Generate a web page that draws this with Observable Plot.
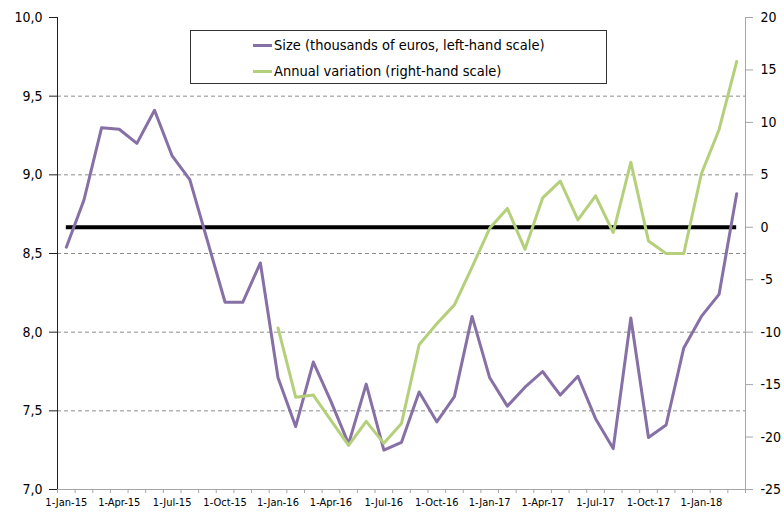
<!DOCTYPE html>
<html><head><meta charset="utf-8">
<script src="https://cdn.jsdelivr.net/npm/d3@7"></script>
<script src="https://cdn.jsdelivr.net/npm/@observablehq/plot@0.6"></script>
<style>
body{margin:0;background:#fff;}
#wrap{position:relative;width:784px;height:512px;font-family:"Liberation Sans Narrow","Arial Narrow","DejaVu Sans Condensed",sans-serif;}
#legend{position:absolute;left:190px;top:30px;width:417px;height:54px;border:1px solid #333;background:#fff;box-sizing:border-box;font-size:14.5px;color:#000;}
.row{position:absolute;left:62px;display:flex;align-items:center;white-space:nowrap;line-height:20px;}
.sw{width:19px;height:3px;margin-right:2px;}
</style></head>
<body><div id="wrap"><div id="chart"></div>
<div id="legend">
<div class="row" style="top:4px"><span class="sw" style="background:#8670a5"></span><span id="l1"></span></div>
<div class="row" style="top:30px"><span class="sw" style="background:#b5d07b"></span><span id="l2"></span></div>
</div></div>
<script>
const months = ["Jan-15","Feb-15","Mar-15","Apr-15","May-15","Jun-15","Jul-15","Aug-15","Sep-15","Oct-15","Nov-15","Dec-15",
"Jan-16","Feb-16","Mar-16","Apr-16","May-16","Jun-16","Jul-16","Aug-16","Sep-16","Oct-16","Nov-16","Dec-16",
"Jan-17","Feb-17","Mar-17","Apr-17","May-17","Jun-17","Jul-17","Aug-17","Sep-17","Oct-17","Nov-17","Dec-17",
"Jan-18","Feb-18","Mar-18"];
const size = [8.54,8.84,9.30,9.29,9.20,9.41,9.12,8.97,8.58,8.19,8.19,8.44,
7.71,7.40,7.81,7.56,7.29,7.67,7.25,7.30,7.62,7.43,7.59,8.10,
7.71,7.53,7.65,7.75,7.60,7.72,7.45,7.26,8.09,7.33,7.41,7.90,
8.10,8.24,8.88];
// annual variation (%), from Jan-16
const variationStart = "Jan-16";
const variation = [-9.6,-16.2,-16.0,-18.4,-20.8,-18.5,-20.6,-18.7,-11.2,-9.2,-7.4,-3.8,
-0.1,1.8,-2.1,2.8,4.4,0.7,3.0,-0.5,6.2,-1.3,-2.5,-2.5,
5.1,9.3,15.8];
const leftTicks = [7,7.5,8,8.5,9,9.5,10];
const rightTicks = [-25,-20,-15,-10,-5,0,5,10,15,20];
const xTickLabels = ["1-Jan-15","1-Apr-15","1-Jul-15","1-Oct-15","1-Jan-16","1-Apr-16","1-Jul-16","1-Oct-16","1-Jan-17","1-Apr-17","1-Jul-17","1-Oct-17","1-Jan-18"];
const xTickMonths = ["Jan-15","Apr-15","Jul-15","Oct-15","Jan-16","Apr-16","Jul-16","Oct-16","Jan-17","Apr-17","Jul-17","Oct-17","Jan-18"];
const legendLabels = ["Size (thousands of euros, left-hand scale)","Annual variation (right-hand scale)"];

document.getElementById("l1").textContent = legendLabels[0];
document.getElementById("l2").textContent = legendLabels[1];

const purple = "#8670a5", green = "#b5d07b";
const leftMin = 7, leftMax = 10, rightMin = -25, rightMax = 20;
const toLeft = v => leftMin + (v - rightMin) * (leftMax - leftMin) / (rightMax - rightMin);
const fromLeft = v => rightMin + (v - leftMin) * (rightMax - rightMin) / (leftMax - leftMin);

const sizeData = months.map((m, i) => ({i, v: size[i]}));
const off = months.indexOf(variationStart);
const varData = variation.map((v, k) => ({i: k + off, v: toLeft(v)}));
const boundaries = d3.range(months.length + 1).map(k => k - 0.5);
const labelIdx = xTickMonths.map(m => months.indexOf(m));
const font = '"Liberation Sans Narrow","Arial Narrow","DejaVu Sans Condensed",sans-serif';

const chart = Plot.plot({
  width: 784, height: 512,
  marginLeft: 57, marginRight: 39, marginTop: 17, marginBottom: 23,
  style: {fontFamily: font, background: "#fff", color: "#000"},
  x: {type: "linear", domain: [-0.5, months.length - 0.5]},
  y: {domain: [leftMin, leftMax]},
  marks: [
    Plot.ruleY(leftTicks.filter(t => t > leftMin && t < leftMax), {stroke: "#8c8c8c", strokeDasharray: "4,3"}),
    Plot.ruleY([leftMin], {stroke: "#a6a6a6"}),
    Plot.ruleX([-0.5], {stroke: "#222"}),
    Plot.ruleX([months.length - 0.5], {stroke: "#a6a6a6"}),
    Plot.axisY({ticks: leftTicks, label: null, tickSize: 8, tickPadding: 7, fontSize: 14, stroke: "#222",
      tickFormat: d => d.toFixed(1).replace(".", ",")}),
    Plot.axisY({anchor: "right", label: null, ticks: rightTicks.map(toLeft), tickSize: 7, tickPadding: 8, fontSize: 14, stroke: "#a6a6a6",
      tickFormat: v => String(Math.round(fromLeft(v)))}),
    Plot.axisX({ticks: boundaries, label: null, tickSize: 4, stroke: "#a6a6a6", tickFormat: () => ""}),
    Plot.axisX({ticks: labelIdx, label: null, tickSize: 0, tickPadding: 9, fontSize: 11,
      tickFormat: i => xTickLabels[labelIdx.indexOf(i)]}),
    Plot.ruleY([toLeft(0)], {x1: 0, x2: months.length - 1, stroke: "#000", strokeWidth: 4}),
    Plot.line(sizeData, {x: "i", y: "v", stroke: purple, strokeWidth: 3}),
    Plot.line(varData, {x: "i", y: "v", stroke: green, strokeWidth: 3})
  ]
});
document.getElementById("chart").appendChild(chart);
</script>
</body></html>
